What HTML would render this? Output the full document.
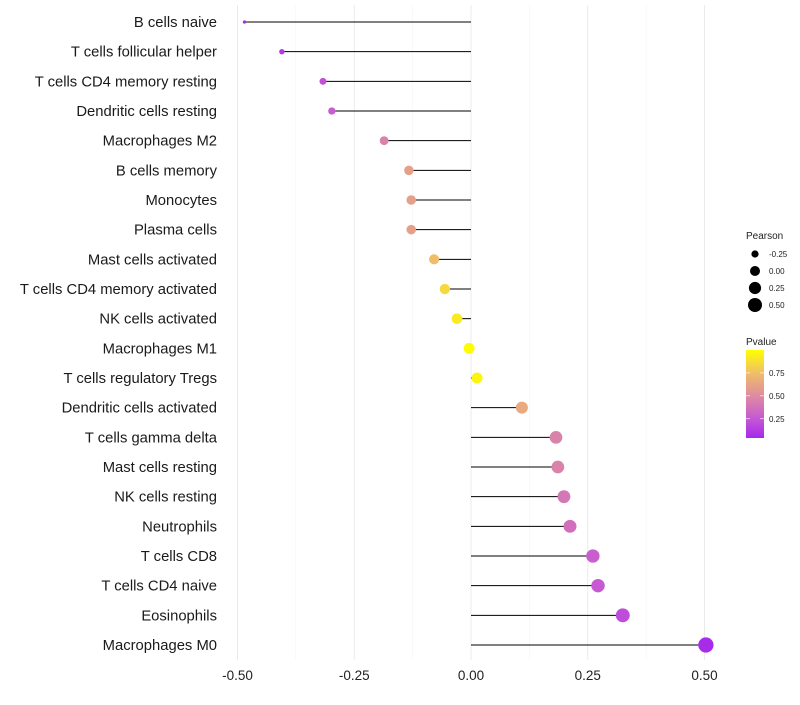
<!DOCTYPE html>
<html><head><meta charset="utf-8"><style>
body{margin:0;background:#fff;font-family:"Liberation Sans",sans-serif}
svg text{font-family:"Liberation Sans",sans-serif}
</style></head><body>
<svg id="chart" width="800" height="700"></svg>
<script>
const categories=["B cells naive","T cells follicular helper","T cells CD4 memory resting","Dendritic cells resting","Macrophages M2","B cells memory","Monocytes","Plasma cells","Mast cells activated","T cells CD4 memory activated","NK cells activated","Macrophages M1","T cells regulatory  Tregs ","Dendritic cells activated","T cells gamma delta","Mast cells resting","NK cells resting","Neutrophils","T cells CD8","T cells CD4 naive","Eosinophils","Macrophages M0"];
const pearson=[-0.485,-0.405,-0.317,-0.298,-0.186,-0.133,-0.128,-0.128,-0.079,-0.056,-0.03,-0.004,0.013,0.109,0.182,0.186,0.199,0.212,0.261,0.272,0.325,0.503];
const pvalues=[0.05,0.12,0.22,0.27,0.45,0.6,0.6,0.6,0.75,0.85,0.92,0.99,0.96,0.65,0.45,0.45,0.4,0.36,0.28,0.26,0.2,0.05];
const xTicks=[-0.5,-0.25,0,0.25,0.5];
const xTickLabels=["-0.50","-0.25","0.00","0.25","0.50"];
const sizeLegend=[-0.25,0,0.25,0.5];
const sizeLegendLabels=["-0.25","0.00","0.25","0.50"];
const pTicks=[0.25,0.5,0.75];

const NS="http://www.w3.org/2000/svg";
const svg=document.getElementById('chart');
function el(t,a,p){const e=document.createElementNS(NS,t);for(const k in a)e.setAttribute(k,a[k]);(p||svg).appendChild(e);return e;}
const x=v=>471+v*467;
const y=i=>22+i*(645-22)/21;
const r=v=>Math.sqrt(Math.max(2,25+48*v));
const rp=v=>Math.sqrt(Math.max(2.5,30+56*v));
const stops=[[160,32,240],[198,88,212],[222,140,160],[240,190,105],[255,255,0]];
function col(p){p=Math.max(0,Math.min(1,p));const s=p*4,i=Math.min(3,Math.floor(s)),f=s-i;const c=stops[i].map((v,k)=>Math.round(v+(stops[i+1][k]-v)*f));return `rgb(${c})`;}

xTicks.forEach((t,i)=>{
  const g=el('line',{x1:x(t),x2:x(t),y1:5,y2:660,stroke:'#ebebeb','stroke-width':1});
  
  
  if(i<xTicks.length-1){const m=el('line',{x1:x(t+0.125),x2:x(t+0.125),y1:5,y2:660,stroke:'#f5f5f5','stroke-width':0.6});
  
  }
  const tx=el('text',{x:x(t),y:680,'text-anchor':'middle','font-size':13.5,fill:'#222'});tx.textContent=xTickLabels[i];
  
  
});
categories.forEach((c,i)=>{
  const lb=el('text',{x:217,y:y(i)+5,'text-anchor':'end','font-size':14.8,fill:'#1a1a1a','xml:space':'preserve'});lb.textContent=c;
  
  
  const s=el('line',{x1:x(0),x2:x(pearson[i]),y1:y(i),y2:y(i),stroke:'#000','stroke-width':1});
  
  
  const d=el('circle',{cx:x(pearson[i]),cy:y(i),r:rp(pearson[i]),fill:col(pvalues[i])});
  
  
});
const lt=el('text',{x:746,y:239,'font-size':10,fill:'#222'});lt.textContent='Pearson';


sizeLegend.forEach((v,i)=>{
  const cy=254+i*17;
  const c=el('circle',{cx:755,cy:cy,r:r(v),fill:'#000'});
  
  
  const t=el('text',{x:769,y:cy+3,'font-size':8,fill:'#222'});t.textContent=sizeLegendLabels[i];
  
  
});
const pt=el('text',{x:746,y:345,'font-size':10,fill:'#222'});pt.textContent='Pvalue';


const defs=el('defs',{});const lg=el('linearGradient',{id:'cg',x1:0,y1:1,x2:0,y2:0},defs);
const pmin=0.04,pmax=1.0;
for(let k=0;k<=10;k++){const p=pmin+(pmax-pmin)*k/10;el('stop',{offset:k/10,'stop-color':col(p)},lg);}
const cb=el('rect',{x:746,y:350,width:18,height:88,fill:'url(#cg)'});


const py=p=>438-(p-pmin)/(pmax-pmin)*88;
pTicks.forEach(p=>{
  el('line',{x1:746,x2:750,y1:py(p),y2:py(p),stroke:'#fff','stroke-width':0.6});
  el('line',{x1:760,x2:764,y1:py(p),y2:py(p),stroke:'#fff','stroke-width':0.6});
  const t=el('text',{x:769,y:py(p)+3,'font-size':8,fill:'#222'});t.textContent=p.toFixed(2);
  
  
});
</script>
</body></html>
